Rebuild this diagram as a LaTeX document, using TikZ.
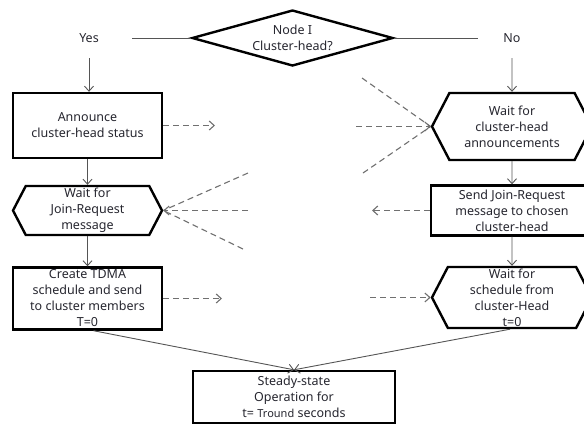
\documentclass[tikz,border=0pt]{standalone}
\usepackage{fontspec}
\setmainfont{Noto Sans}
\usetikzlibrary{arrows.meta,shapes.geometric,shapes.symbols}
\definecolor{txt}{HTML}{26262F}
\definecolor{ln}{HTML}{555555}
\definecolor{dsh}{HTML}{707070}

\begin{document}
\begin{tikzpicture}[x=1pt,y=-1pt,
  every node/.style={font=\fontsize{12.5}{16}\selectfont,text=txt,align=center},
  box/.style={rectangle,draw=black,line width=2.4pt,inner sep=0pt},
  waitbox/.style={signal,signal to=west and east,signal pointer angle=125,draw=black,line width=2.4pt,inner sep=0pt},
  lbl/.style={minimum height=40pt,inner sep=0pt},
  plain/.style={draw=ln,line width=0.9pt},
  flow/.style={plain,-{Straight Barb[length=5pt,width=9pt]}},
  msg/.style={draw=dsh,line width=1.1pt,dash pattern=on 6pt off 4pt},
  tip/.style={-{Straight Barb[length=5pt,width=9pt]}}]
                \clip (0,0) rectangle (584,424);

                \node[diamond,draw=black,line width=2.4pt,aspect=3.6,minimum width=201pt,minimum height=56pt,inner sep=0pt] (chq) at (292.5,38) {Node I\\Cluster-head?};
                \node[lbl,minimum width=86pt] (yes) at (89,38) {Yes};
                \node[lbl,minimum width=68pt] (no) at (512,38) {No};

                \node[box,minimum width=149pt,minimum height=65pt] (annc) at (87.5,125.5) {Announce\\cluster-head status};
                \node[waitbox,minimum width=149pt,minimum height=49pt] (wjoin) at (87.5,210.5) {Wait for\\Join-Request\\message};
                \node[box,minimum width=149pt,minimum height=62pt] (tdma) at (87.5,298.5) {Create TDMA\\schedule and send\\to cluster members\\T=0};

                \node[waitbox,minimum width=160pt,minimum height=67pt] (wann) at (512,126.5) {Wait for\\cluster-head\\announcements};
                \node[box,minimum width=162pt,minimum height=50pt] (sjoin) at (512,210.5) {Send Join-Request\\message to chosen\\cluster-head};
                \node[waitbox,minimum width=160pt,minimum height=61pt] (wsch) at (512,297.5) {Wait for\\schedule from\\cluster-Head\\t=0};

                \node[box,minimum width=202pt,minimum height=52pt] (steady) at (294,397) {Steady-state\\Operation for\\t= {\fontsize{11}{16}\selectfont Tround} seconds};

                \coordinate (annout) at (215,125.5);
                \coordinate (annin) at (356,126.5);
                \coordinate (annup) at (362,78);
                \coordinate (anndn) at (363,173);
                \coordinate (joinin) at (248,210.5);
                \coordinate (joinup) at (248,173);
                \coordinate (joindn) at (243,249);
                \coordinate (joinout) at (372,210.5);
                \coordinate (tdmaout) at (222,298.5);
                \coordinate (schin) at (370,297.5);

                \draw[plain] (yes) -- (chq) (chq) -- (no);
                \draw[flow] (yes.south) -- (yes.south |- annc.north);
                \draw[flow] (annc) -- (wjoin);
                \draw[flow] (wjoin) -- (tdma);
                \draw[flow] (no) -- (wann);
                \draw[flow] (wann) -- (sjoin);
                \draw[flow] (sjoin) -- (wsch);
                \draw[flow] ([xshift=6pt]tdma.south) -- (steady.north);
                \draw[flow] ([xshift=-2pt]wsch.south) -- (steady.north);

                \draw[msg,tip] (annc.east) -- (annout);
                \draw[msg,tip] (annin) -- (wann.west);
                \draw[msg] (annup) -- (wann.west) (anndn) -- (wann.west);
                \draw[msg,tip] (joinin) -- (wjoin.east);
                \draw[msg] (joinup) -- (wjoin.east) (joindn) -- (wjoin.east);
                \draw[msg,tip] (sjoin.west) -- (joinout);
                \draw[msg,tip] (tdma.east) -- (tdmaout);
                \draw[msg,tip] (schin) -- (wsch.west);
            \end{tikzpicture}
\end{document}
